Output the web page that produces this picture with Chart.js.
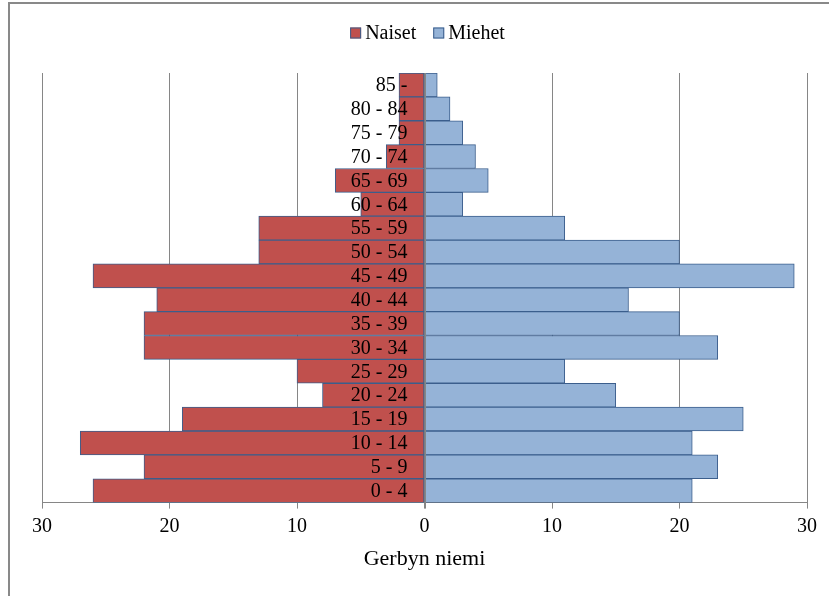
<!DOCTYPE html>
<html>
<head>
<meta charset="utf-8">
<script src="https://cdn.jsdelivr.net/npm/chart.js@4"></script>
<style>
html,body{margin:0;padding:0;background:#fff;}
#wrap{width:829px;height:596px;position:relative;}
</style>
</head>
<body>
<div id="wrap"><canvas id="c" width="829" height="596"></canvas></div>
<script>
const categories = ['85 -','80 - 84','75 - 79','70 - 74','65 - 69','60 - 64','55 - 59','50 - 54','45 - 49','40 - 44','35 - 39','30 - 34','25 - 29','20 - 24','15 - 19','10 - 14','5 - 9','0 - 4'];
const naiset = [2,2,2,3,7,5,13,13,26,21,22,22,10,8,19,27,22,26];
const miehet = [1,2,3,4,5,3,11,20,29,16,20,23,11,15,25,21,23,21];
const xTicks = [-30,-20,-10,0,10,20,30];
const seriesNames = ['Naiset','Miehet'];
const axisTitle = 'Gerbyn niemi';

const FONT = "'Liberation Serif', 'Times New Roman', serif";

const framePlugin = {
  id: 'frame',
  beforeDraw(chart) {
    const ctx = chart.ctx;
    ctx.save();
    ctx.fillStyle = '#fff';
    ctx.fillRect(0, 0, chart.width, chart.height);
    ctx.strokeStyle = '#898989';
    ctx.lineWidth = 2;
    ctx.strokeRect(9, 3, chart.width + 20, chart.height + 20);
    ctx.restore();
  },
  afterDatasetsDraw(chart) {
    const ctx = chart.ctx;
    const xs = chart.scales.x, ys = chart.scales.y;
    const x0 = xs.getPixelForValue(0);
    ctx.save();
    ctx.strokeStyle = '#868686';
    ctx.lineWidth = 1;
    ctx.beginPath();
    ctx.moveTo(Math.round(x0) + 0.5, chart.chartArea.top);
    ctx.lineTo(Math.round(x0) + 0.5, chart.chartArea.bottom + 6);
    ctx.stroke();
    ctx.fillStyle = '#000';
    ctx.font = '20px ' + FONT;
    ctx.textAlign = 'right';
    ctx.textBaseline = 'middle';
    chart.data.labels.forEach((lab, i) => {
      ctx.fillText(lab, x0 - 17, ys.getPixelForValue(i) + 1);
    });
    ctx.restore();
  },
  afterDraw(chart) {
    // legend
    const ctx = chart.ctx;
    ctx.save();
    ctx.font = '20px ' + FONT;
    const box = 11, gap = 4, itemGap = 17;
    const ds = chart.data.datasets;
    const widths = ds.map(d => ctx.measureText(d.label).width);
    let total = 0;
    widths.forEach((w, i) => { total += box + gap + w + (i < widths.length - 1 ? itemGap : 0); });
    const ca = chart.chartArea;
    let x = (ca.left + ca.right) / 2 + 3 - total / 2;
    const yc = 33;
    ctx.textBaseline = 'middle';
    ctx.textAlign = 'left';
    ds.forEach((d, i) => {
      ctx.fillStyle = d.backgroundColor;
      ctx.fillRect(x, yc - box / 2, box, box);
      ctx.strokeStyle = d.borderColor;
      ctx.lineWidth = 1;
      ctx.strokeRect(x + 0.5, yc - box / 2 + 0.5, box - 1, box - 1);
      x += box + gap;
      ctx.fillStyle = '#000';
      ctx.fillText(d.label, x, yc + 1);
      x += widths[i] + itemGap;
    });
    ctx.restore();
  }
};

new Chart(document.getElementById('c'), {
  type: 'bar',
  data: {
    labels: categories,
    datasets: [
      { label: seriesNames[0], data: naiset.map(v => -v), backgroundColor: '#C0504D', borderColor: '#3B5E8C', borderWidth: 1, borderSkipped: false },
      { label: seriesNames[1], data: miehet, backgroundColor: '#95B3D7', borderColor: '#3B5E8C', borderWidth: 1, borderSkipped: false }
    ]
  },
  options: {
    indexAxis: 'y',
    responsive: false,
    animation: false,
    devicePixelRatio: 1,
    datasets: { bar: { barPercentage: 1, categoryPercentage: 1 } },
    layout: { padding: { left: 42, right: 22, top: 73, bottom: 24 } },
    plugins: {
      legend: { display: false },
      tooltip: { enabled: false }
    },
    scales: {
      x: {
        stacked: true,
        min: -30, max: 30,
        afterBuildTicks(scale) { scale.ticks = xTicks.map(v => ({ value: v })); },
        ticks: {
          callback: v => Math.abs(v),
          font: { family: FONT, size: 20 },
          color: '#000',
          padding: 6,
          maxRotation: 0
        },
        grid: { color: '#868686', tickLength: 6, drawTicks: true },
        border: { color: '#868686' },
        title: { display: true, text: axisTitle, font: { family: FONT, size: 22 }, color: '#000', padding: { top: 1, bottom: 0 } }
      },
      y: {
        stacked: true,
        display: false
      }
    }
  },
  plugins: [framePlugin]
});
</script>
</body>
</html>
